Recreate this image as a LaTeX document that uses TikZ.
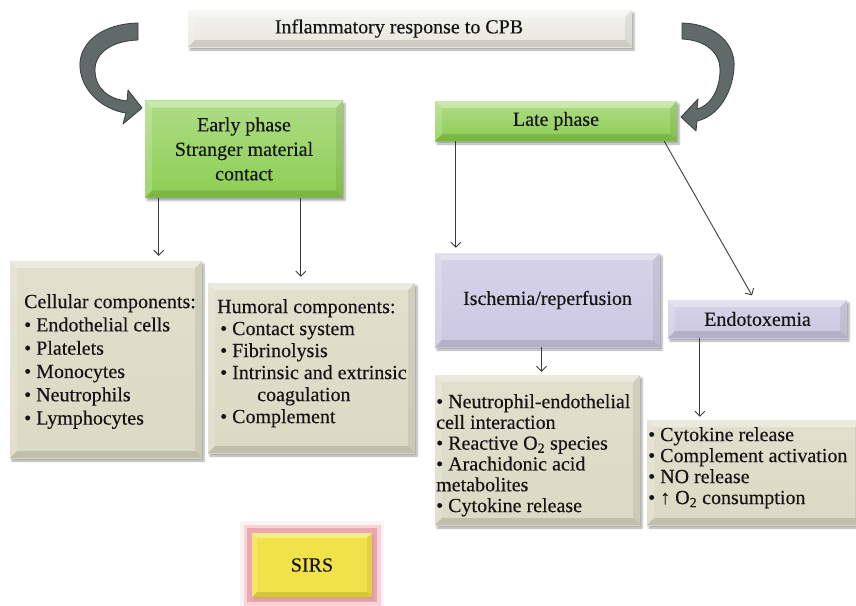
\documentclass[tikz,border=0pt]{standalone}
\usepackage{fontspec}
\setmainfont{Liberation Serif}[FakeBold=0.25]
\usetikzlibrary{arrows.meta,shadows.blur}
\definecolor{topc}{RGB}{232,232,222}
\definecolor{grn}{RGB}{140,206,82}
\definecolor{purp}{RGB}{204,200,226}
\definecolor{beige}{RGB}{219,218,196}
\definecolor{yel}{RGB}{242,226,74}
\definecolor{glow}{RGB}{230,140,152}
\definecolor{arrc}{RGB}{96,106,104}
\definecolor{arrd}{RGB}{55,62,60}
\definecolor{linec}{RGB}{60,60,60}
\definecolor{txt}{RGB}{20,20,20}
\tikzset{
  bev/.style={path picture={
    \coordinate (ppnw) at (path picture bounding box.north west);
    \coordinate (ppne) at (path picture bounding box.north east);
    \coordinate (ppsw) at (path picture bounding box.south west);
    \coordinate (ppse) at (path picture bounding box.south east);
    \fill[white,opacity=.35] (ppnw) -- (ppne) -- ([xshift=-#1,yshift=-#1]ppne) -- ([xshift=#1,yshift=-#1]ppnw) -- cycle;
    \fill[white,opacity=.18] (ppnw) -- ([xshift=#1,yshift=-#1]ppnw) -- ([xshift=#1,yshift=#1]ppsw) -- (ppsw) -- cycle;
    \fill[black,opacity=.12] (ppsw) -- ([xshift=#1,yshift=#1]ppsw) -- ([xshift=-#1,yshift=#1]ppse) -- (ppse) -- cycle;
    \fill[black,opacity=.07] (ppne) -- (ppse) -- ([xshift=-#1,yshift=#1]ppse) -- ([xshift=-#1,yshift=-#1]ppne) -- cycle;
  }},
  bev/.default=7pt,
  basebox/.style={rectangle, inner sep=0pt, text=txt, align=center,
    font=\fontsize{20}{24.5}\selectfont,
    blur shadow={shadow xshift=2pt, shadow yshift=-3pt, shadow opacity=35, shadow blur steps=4},
    bev},
  topbox/.style={basebox, top color=topc!50!white, bottom color=topc},
  greenbox/.style={basebox, top color=grn!70!white, bottom color=grn},
  purpbox/.style={basebox, top color=purp!80!white, bottom color=purp},
  beigebox/.style={basebox, top color=beige!85!white, bottom color=beige},
  sirsbox/.style={basebox, fill=yel, bev=5pt,
    preaction={draw=glow!40, line width=24pt, opacity=.3, rounded corners=9pt},
    preaction={draw=glow!70, line width=17pt, opacity=.45, rounded corners=6pt},
    preaction={draw=glow, line width=10pt, opacity=.6, rounded corners=3pt}},
  listtext/.style={anchor=north west, inner sep=0pt, align=left, text=txt},
  conn/.style={draw=linec, line width=0.9pt, -{Straight Barb[length=5pt,width=10pt]}},
  bigarrow/.style={fill=arrc, draw=arrd, line width=0.8pt, line join=round},
}
\begin{document}
\begin{tikzpicture}[x=1pt,y=-1pt]
\useasboundingbox (0,0) rectangle (856,605);

% top box
\node[topbox, minimum width=444pt, minimum height=37pt] (top) at (410,28.5) {Inflammatory response to CPB\hspace*{22pt}};

% phases
\node[greenbox, minimum width=198pt, minimum height=97pt] (early) at (244,149) {Early phase\\Stranger material\\contact};
\node[greenbox, minimum width=242pt, minimum height=40pt] (late) at (556,121) {Late phase};

% curved block arrows
\path[bigarrow] (138,23) .. controls (98,24) and (78,46) .. (80,68)
  .. controls (82,92) and (104,110) .. (126,113) -- (123,124) -- (142,108) -- (128,90) -- (127,101)
  .. controls (108,99) and (95,88) .. (95,70) .. controls (95,54) and (110,41) .. (138,40) -- cycle;
\path[bigarrow] (682,23) .. controls (718,24) and (736,46) .. (734,68)
  .. controls (732,96) and (716,117) .. (697,121) -- (696,131) -- (681,117) -- (698,99) -- (697,109)
  .. controls (710,106) and (720,90) .. (720,70) .. controls (720,52) and (705,40) .. (682,39) -- cycle;

% component boxes
\node[beigebox, minimum width=192pt, minimum height=197pt] (cell) at (106,359.5) {};
\node[beigebox, minimum width=207pt, minimum height=170pt] (hum) at (311.5,368) {};
\node[purpbox, minimum width=225pt, minimum height=94pt] (isch) at (547.5,300) {Ischemia/reperfusion};
\node[purpbox, minimum width=179pt, minimum height=38pt] (endo) at (757.5,319) {Endotoxemia};
\node[beigebox, minimum width=205pt, minimum height=150pt] (neut) at (537.5,450) {};
\node[beigebox, minimum width=215pt, minimum height=105pt] (cyto) at (754.5,472.5) {};
\node[sirsbox, minimum width=120pt, minimum height=64pt] (sirs) at (312,565) {SIRS};

% texts
\node[listtext, font=\fontsize{20}{23.3}\selectfont] (celltxt) at (24,294) {Cellular components:\\• Endothelial cells\\• Platelets\\• Monocytes\\• Neutrophils\\• Lymphocytes};
\node[listtext, font=\fontsize{20}{22}\selectfont] (humtxt) at (217,299) {Humoral components:\\\hspace*{3pt}• Contact system\\\hspace*{3pt}• Fibrinolysis\\\hspace*{3pt}• Intrinsic and extrinsic\\\hspace*{40pt}coagulation\\\hspace*{3pt}• Complement};
\node[listtext, font=\fontsize{20}{20.8}\selectfont] (neuttxt) at (436,394) {• Neutrophil-endothelial\\cell interaction\\• Reactive O\textsubscript{2} species\\• Arachidonic acid\\metabolites\\• Cytokine release};
\node[listtext, font=\fontsize{20}{21}\selectfont] (cytotxt) at (648,427) {• Cytokine release\\• Complement activation\\• NO release\\• ↑ O\textsubscript{2} consumption};

% connectors
\draw[conn, shorten >=5pt] ([xshift=14pt]early.south west) coordinate (e1) -- (e1 |- cell.north);
\draw[conn, shorten >=6pt] ([xshift=156pt]early.south west) coordinate (e2) -- (e2 |- hum.north);
\draw[conn, shorten >=5pt] ([xshift=21pt]late.south west) coordinate (l1) -- (l1 |- isch.north);
\draw[conn, shorten >=5pt] ([xshift=-13pt]late.south east) -- ([xshift=-3pt]endo.north);
\draw[conn, shorten >=3pt] ([xshift=-6pt]isch.south) coordinate (i1) -- (i1 |- neut.north);
\draw[conn, shorten >=3pt] ([xshift=32pt]endo.south west) coordinate (n1) -- (n1 |- cyto.north);
\end{tikzpicture}
\end{document}
